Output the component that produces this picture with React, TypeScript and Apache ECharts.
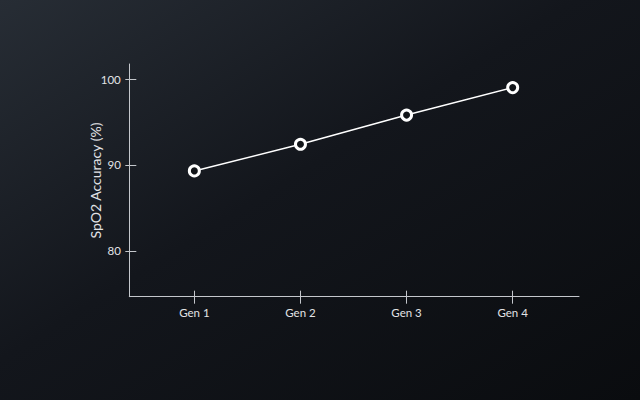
import React, { useEffect, useRef } from "react";
import * as echarts from "echarts";

const categories = ["Gen 1", "Gen 2", "Gen 3", "Gen 4"];
const spo2Accuracy = [89.3, 92.4, 95.8, 99.0];
const yTickValues = [80, 90, 100];
const yAxisTitle = "SpO2 Accuracy (%)";

const FONT = "Lato, 'Noto Sans', sans-serif";
const AXIS_COLOR = "#c4c7cc";
const LABEL_COLOR = "#e2e3e6";

export default function App() {
  const ref = useRef<HTMLDivElement>(null);
  useEffect(() => {
    document.body.style.margin = "0";
    if (!ref.current) return;
    const chart = echarts.init(ref.current, null, { renderer: "svg" });
    const xIdx = categories.map((_, i) => i);
    const xMin = -0.613;
    const xMax = 3.625;
    const yMin = 74.65;
    const yMax = 101.75;
    const xBase = {
      type: "value" as const,
      min: xMin,
      max: xMax,
      splitLine: { show: false },
    };
    const yBase = {
      type: "value" as const,
      min: yMin,
      max: yMax,
      splitLine: { show: false },
    };
    chart.setOption({
      animation: false,
      backgroundColor: {
        type: "linear",
        x: 0,
        y: 0,
        x2: 1,
        y2: 1,
        colorStops: [
          { offset: 0, color: "#272d35" },
          { offset: 0.45, color: "#13161c" },
          { offset: 1, color: "#0a0c0f" },
        ],
      },
      grid: { left: 129.3, right: 61, top: 64, bottom: 103.3 },
      xAxis: [
        {
          ...xBase,
          position: "bottom",
          axisLine: { show: true, onZero: false, lineStyle: { color: AXIS_COLOR, width: 1 } },
          axisTick: {
            show: true,
            inside: false,
            length: 7,
            customValues: xIdx,
            lineStyle: { color: AXIS_COLOR, width: 1 },
          },
          axisLabel: {
            show: true,
            customValues: xIdx,
            formatter: (v: number) => categories[Math.round(v)] ?? "",
            color: LABEL_COLOR,
            fontFamily: FONT,
            fontSize: 11.5,
            margin: 10,
          },
        },
        {
          ...xBase,
          position: "bottom",
          axisLine: { show: false, onZero: false },
          axisTick: {
            show: true,
            inside: true,
            length: 6,
            customValues: xIdx,
            lineStyle: { color: AXIS_COLOR, width: 1 },
          },
          axisLabel: { show: false },
        },
      ],
      yAxis: [
        {
          ...yBase,
          position: "left",
          axisLine: { show: true, onZero: false, lineStyle: { color: AXIS_COLOR, width: 1 } },
          axisTick: {
            show: true,
            inside: false,
            length: 4,
            customValues: yTickValues,
            lineStyle: { color: AXIS_COLOR, width: 1 },
          },
          axisLabel: {
            show: true,
            customValues: yTickValues,
            color: LABEL_COLOR,
            fontFamily: FONT,
            fontSize: 11.5,
            margin: 8.5,
          },
        },
        {
          ...yBase,
          position: "left",
          axisLine: { show: false, onZero: false },
          axisTick: {
            show: true,
            inside: true,
            length: 7,
            customValues: yTickValues,
            lineStyle: { color: AXIS_COLOR, width: 1 },
          },
          axisLabel: { show: false },
        },
      ],
      graphic: [
        {
          type: "text",
          x: 95.7,
          y: 180.5,
          rotation: Math.PI / 2,
          style: {
            text: yAxisTitle,
            fill: LABEL_COLOR,
            font: `14px ${FONT}`,
            textAlign: "center",
            textVerticalAlign: "middle",
          },
        },
      ],
      series: [
        {
          type: "line",
          xAxisIndex: 0,
          yAxisIndex: 0,
          data: spo2Accuracy.map((v, i) => [i, v]),
          lineStyle: { color: "#ffffff", width: 1.5 },
          symbol: "circle",
          symbolSize: 10,
          itemStyle: { color: "#121519", borderColor: "#ffffff", borderWidth: 3 },
          z: 5,
        },
      ],
    });
    return () => chart.dispose();
  }, []);
  return <div ref={ref} style={{ width: 640, height: 400 }} />;
}
